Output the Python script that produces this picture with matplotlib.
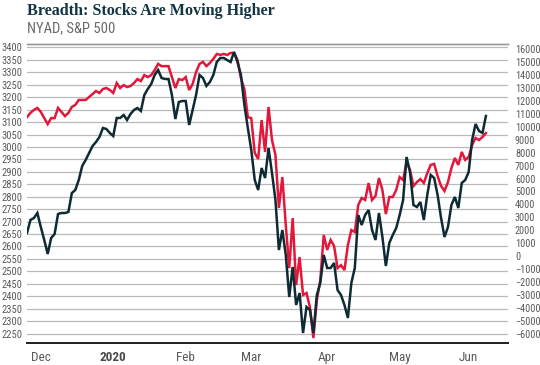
import matplotlib
matplotlib.use("Agg")
import matplotlib.pyplot as plt
from matplotlib import font_manager
import numpy as np

# S&P 500 (left axis), one value per trading day from late Nov 2019 to early Jun 2020
sp500 = [3120, 3137, 3149, 3157, 3141, 3116, 3092, 3116, 3116, 3157,
         3141, 3124, 3137, 3161, 3169, 3189, 3189, 3189, 3201, 3213,
         3225, 3217, 3233, 3237, 3229, 3217, 3257, 3237, 3249, 3241,
         3245, 3257, 3273, 3265, 3289, 3281, 3289, 3309, 3334, 3325,
         3325, 3325, 3281, 3237, 3273, 3269, 3281, 3229, 3253, 3301,
         3334, 3342, 3325, 3338, 3354, 3374, 3370, 3374, 3370, 3378,
         3378, 3350, 3277, 3233, 3120, 3116, 2976, 2952, 3108, 2980,
         3161, 3028, 2968, 2755, 2879, 2686, 2513, 2714, 2445, 2557,
         2405, 2413, 2356, 2232, 2385, 2465, 2646, 2586, 2626, 2602,
         2513, 2525, 2505, 2606, 2666, 2658, 2767, 2795, 2787, 2855,
         2787, 2803, 2875, 2827, 2730, 2799, 2799, 2827, 2879, 2867,
         2940, 2907, 2843, 2859, 2871, 2855, 2895, 2928, 2932, 2883,
         2843, 2823, 2859, 2915, 2956, 2928, 2980, 2948, 2960, 3008,
         3036, 3028, 3040, 3056]

# NYAD cumulative advance/decline line (right axis)
nyad = [1795, 2800, 2953, 3339, 2258, 1255, 174, 1409, 1718, 3262,
        3339, 3339, 3416, 4883, 5115, 5887, 6968, 7431, 7971, 8512,
        8820, 9206, 9901, 9824, 9515, 9284, 10673, 10673, 10905, 10519,
        10982, 11291, 11445, 11214, 12449, 12912, 13298, 13993, 14379, 13761,
        13684, 13684, 12449, 10596, 11908, 11986, 11986, 10133, 11291, 12449,
        13993, 13761, 13144, 13452, 13993, 14996, 15305, 15305, 15151, 14996,
        15768, 14996, 13993, 11677, 9901, 8203, 5887, 5115, 6813, 6041,
        8357, 6427, 4343, 483, 2027, 97, -3146, -830, -3763, -2837,
        -5925, -3918, -4149, -5925, -2991, -2065, 97, -907, -907, -521,
        -2605, -2991, -3763, -4767, -2065, -907, 3185, 2413, 3185, 3571,
        2027, 1255, 3339, 1486, -752, 1023, 1641, 2181, 3185, 4343,
        7662, 6504, 3957, 3802, 4188, 2799, 4729, 6273, 6041, 4729,
        2953, 1486, 2258, 3957, 4574, 3725, 5655, 5887, 6504, 8975,
        10210, 9670, 9515, 10828]

month_labels = ["Dec", "2020", "Feb", "Mar", "Apr", "May", "Jun"]
month_start_idx = [4, 25, 46, 65, 87, 108, 128]   # first trading day of each month

left_ticks = list(range(2250, 3401, 50))
right_ticks = list(range(-6000, 16001, 1000))

RED = "#e3173a"
DARK = "#0e2a33"
GRID = "#b9b9b9"
LABEL = "#5a5a5a"

available = {f.name for f in font_manager.fontManager.ttflist}
condensed = None
for name in ["Roboto Condensed", "Liberation Sans Narrow", "Arial Narrow",
             "Open Sans Condensed", "Noto Sans Condensed", "DejaVu Sans Condensed"]:
    if name in available:
        condensed = name
        break
if condensed is None:
    condensed = "Roboto"
    scale = 0.85
else:
    scale = 1.0
NARROW = [condensed, "DejaVu Sans"]

fig = plt.figure(figsize=(5.4, 3.65), dpi=100)
ax = fig.add_axes([27/540, 22/365, 481/540, 299/365])
ax2 = ax.twinx()

x = np.arange(len(sp500))
ax.plot(x, sp500, color=RED, lw=1.8, solid_joinstyle="miter", zorder=3)
ax2.plot(x, nyad, color=DARK, lw=1.8, solid_joinstyle="miter", zorder=3)

ax.set_xlim(0, 139.4)
ax.set_ylim(2212, 3414)
ax2.set_ylim(-6697, 16386)

ax.set_yticks(left_ticks)
ax2.set_yticks(right_ticks)
ax.yaxis.grid(True, color=GRID, lw=0.9)
ax.set_axisbelow(True)

for a in (ax, ax2):
    a.tick_params(axis="both", length=0)
    for s in ("left", "right"):
        a.spines[s].set_visible(False)
    a.spines["top"].set_color("#999999")
    a.spines["top"].set_linewidth(1.0)
    a.spines["bottom"].set_color("#222222")
    a.spines["bottom"].set_linewidth(1.3)

ax.tick_params(axis="y", pad=3)
ax2.tick_params(axis="y", pad=5)
for lab in ax.get_yticklabels():
    lab.set_family(NARROW); lab.set_fontsize(7.6 * scale); lab.set_color(LABEL)
for lab in ax2.get_yticklabels():
    lab.set_family(NARROW); lab.set_fontsize(7.4 * scale); lab.set_color(LABEL)

ax.set_xticks(month_start_idx)
ax.set_xticklabels(month_labels)
ax.tick_params(axis="x", pad=6)
for lab in ax.get_xticklabels():
    lab.set_family(NARROW); lab.set_fontsize(9.5 * scale); lab.set_color(LABEL)
    if lab.get_text() == "2020":
        lab.set_fontweight("bold")
        lab.set_color("#4a4a4a")

fig.text(27/540, 1 - 11/365, "Breadth: Stocks Are Moving Higher",
         family=["Liberation Serif", "DejaVu Serif"], fontweight="bold",
         fontsize=11.6, color="#123543", va="center", ha="left")
fig.text(27/540, 1 - 28/365, "NYAD, S&P 500",
         family=NARROW, fontsize=10.5 * scale, color="#6a6a6a", va="center", ha="left")

fig.savefig("out.png", dpi=100)
